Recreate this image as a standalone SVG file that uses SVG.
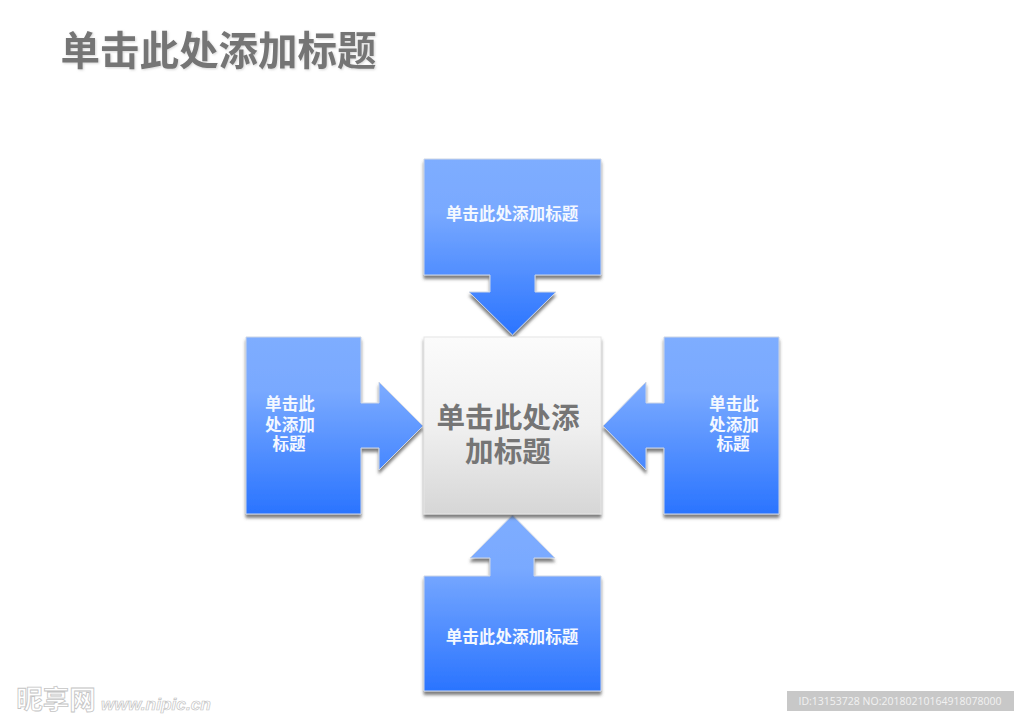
<svg xmlns="http://www.w3.org/2000/svg" width="1024" height="721" viewBox="0 0 1024 721">
<style>
text{font-family:"Noto Sans CJK SC","Liberation Sans",sans-serif;font-weight:700;text-anchor:middle}
.shape{stroke:#cdd6e6;stroke-width:1;filter:url(#sh)}
.lbl{fill:#f4f8ff;font-size:16.6px}
.ttl{fill:#757575}
</style>
<defs>
<filter id="sh" x="-10%" y="-10%" width="120%" height="120%"><feDropShadow dx="0" dy="3.500" stdDeviation="1.500" flood-color="#444" flood-opacity="0.7"/></filter>
<filter id="ts" x="-5%" y="-20%" width="110%" height="140%"><feDropShadow dx="1" dy="1" stdDeviation="0.800" flood-color="#aaa" flood-opacity="0.5"/></filter>
<linearGradient id="bt" gradientUnits="userSpaceOnUse" x1="0" y1="159" x2="0" y2="335"><stop offset="0" stop-color="#7eadff"/><stop offset="0.3" stop-color="#79a9ff"/><stop offset="1" stop-color="#2a74ff"/></linearGradient>
<linearGradient id="bm" gradientUnits="userSpaceOnUse" x1="0" y1="337" x2="0" y2="514"><stop offset="0" stop-color="#7eadff"/><stop offset="0.3" stop-color="#79a9ff"/><stop offset="1" stop-color="#2a74ff"/></linearGradient>
<linearGradient id="bb" gradientUnits="userSpaceOnUse" x1="0" y1="515" x2="0" y2="691"><stop offset="0" stop-color="#7eadff"/><stop offset="0.3" stop-color="#79a9ff"/><stop offset="1" stop-color="#2a74ff"/></linearGradient>
<linearGradient id="gc" x1="0" y1="0" x2="0" y2="1"><stop offset="0" stop-color="#fbfbfb"/><stop offset="0.5" stop-color="#f0f0f0"/><stop offset="1" stop-color="#d6d6d6"/></linearGradient>
</defs>
<rect width="1024" height="721" fill="#fff"/>
<text id="title" class="ttl" x="218.500" y="65" font-size="39.500" filter="url(#ts)">单击此处添加标题</text>
<g id="node-top">
<path class="shape" fill="url(#bt)" d="M424 159H601V275H535V292H556L512.500 335L469 292H490V275H424Z"/>
<text class="lbl" x="512" y="220">单击此处添加标题</text>
</g>
<g id="node-left">
<path class="shape" fill="url(#bm)" d="M246 337H361V403H379V382L423 426L379 470V448H361V514H246Z"/>
<text class="lbl"><tspan x="290" y="410">单击此</tspan><tspan x="290" y="431">处添加</tspan><tspan x="289" y="450">标题</tspan></text>
</g>
<g id="node-right">
<path class="shape" fill="url(#bm)" d="M779 337H664V403H646V382L603 426L646 470V448H664V514H779Z"/>
<text class="lbl"><tspan x="734" y="410">单击此</tspan><tspan x="734" y="431">处添加</tspan><tspan x="733" y="450">标题</tspan></text>
</g>
<g id="node-bottom">
<path class="shape" fill="url(#bb)" d="M424 691H601V576H534V558H555L512.500 515L470 558H490V576H424Z"/>
<text class="lbl" x="512" y="643">单击此处添加标题</text>
</g>
<g id="node-center">
<rect class="shape" x="424" y="337" width="177" height="177" fill="url(#gc)" style="stroke:#e6e6e6"/>
<text class="ttl" font-size="28.600"><tspan x="508" y="428">单击此处添</tspan><tspan x="508" y="462">加标题</tspan></text>
</g>
<g id="connectors"/>
<g id="watermark">
<text x="56" y="709" font-size="26.500" fill="#fff" stroke="#c4c4c4" stroke-width="0.800">昵享网</text>
<text x="156" y="710" font-size="17.300" font-style="italic" fill="#fff" stroke="#c4c4c4" stroke-width="0.700" style="font-family:'Liberation Sans',sans-serif">www.nipic.cn</text>
<rect x="787" y="691" width="227" height="20" fill="#c8c8c8"/>
<text x="900" y="705" font-size="10.500" fill="#f2f2f2" style="font-family:'Open Sans',sans-serif;font-weight:400">ID:13153728 NO:20180210164918078000</text>
</g>
</svg>
